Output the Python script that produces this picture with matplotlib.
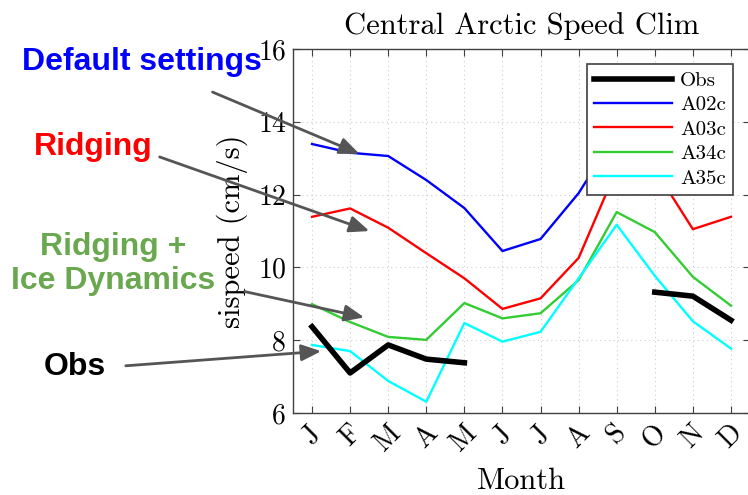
import numpy as np
import matplotlib
matplotlib.use("Agg")
import matplotlib.pyplot as plt

months = ["J", "F", "M", "A", "M", "J", "J", "A", "S", "O", "N", "D"]
obs = [8.37, 7.10, 7.87, 7.48, 7.38, np.nan, np.nan, np.nan, np.nan, 9.32, 9.21, 8.55]
a02c = [13.39, 13.15, 13.06, 12.40, 11.63, 10.45, 10.78, 12.04, 13.7, 13.4, 12.8, 12.9]
a03c = [11.39, 11.62, 11.09, 10.39, 9.70, 8.86, 9.15, 10.26, 12.7, 12.7, 11.05, 11.39]
a34c = [8.99, 8.50, 8.09, 8.01, 9.02, 8.60, 8.74, 9.65, 11.52, 10.97, 9.74, 8.95]
a35c = [7.87, 7.70, 6.88, 6.31, 8.47, 7.96, 8.23, 9.70, 11.17, 9.77, 8.52, 7.77]
yticks = [6, 8, 10, 12, 14, 16]

serif = "cmr10"
W, H = 748, 495
fig = plt.figure(figsize=(W / 100, H / 100), dpi=100)
ax = fig.add_axes([293 / W, 1 - 413 / H, (750 - 293) / W, (413 - 49) / H])

x = np.arange(1, 13)
ax.plot(x, obs, color="black", lw=4, label="Obs", zorder=5)
ax.plot(x, a02c, color="#0000ff", lw=1.7, label="A02c")
ax.plot(x, a03c, color="#ff0000", lw=1.7, label="A03c")
ax.plot(x, a34c, color="#33cc33", lw=1.7, label="A34c")
ax.plot(x, a35c, color="#00ffff", lw=1.7, label="A35c")

ax.set_xlim(0.5, 12.5)
ax.set_ylim(6, 16)
ax.set_xticks(x)
ax.set_xticklabels(months, rotation=45, fontfamily=serif, fontsize=20)
ax.set_yticks(yticks)
ax.set_yticklabels([str(v) for v in yticks], fontfamily=serif, fontsize=20)
ax.tick_params(direction="in", top=True, right=True, length=5, color="#404040", pad=5)
ax.grid(True, linestyle=(0, (1, 3)), color="#cccccc", lw=0.8)
for s in ax.spines.values():
    s.set_color("#404040")
    s.set_linewidth(1.0)

ax.set_title("Central Arctic Speed Clim", fontfamily=serif, fontsize=22, pad=11)
ax.set_xlabel("Month", fontfamily=serif, fontsize=22, labelpad=8)
ax.set_ylabel("sispeed (cm/s)", fontfamily=serif, fontsize=22, labelpad=7)

leg = ax.legend(loc="upper right", bbox_to_anchor=(733 / W, 1 - 64 / H),
                bbox_transform=fig.transFigure, prop={"family": serif, "size": 15},
                fancybox=False, framealpha=1, edgecolor="#404040",
                handlelength=3.7, labelspacing=0.28, borderpad=0.35, handletextpad=0.4,
                borderaxespad=0)
leg.get_frame().set_linewidth(1.2)
leg.set_zorder(10)

# annotations with arrows (figure pixel coords)
def px(xp, yp):
    return (xp / W, 1 - yp / H)

notes = [
    ("Default settings", "#0000ff", (142, 62), (210, 91), (362, 155)),
    ("Ridging", "#ff0000", (93, 147), (157, 156), (372, 232)),
    ("Ridging +\nIce Dynamics", "#6aa84f", (113, 264), (242, 291), (367, 318)),
    ("Obs", "black", (75, 367), (123, 366), (324, 351)),
]
for txt, col, tpos, tail, head in notes:
    fig.text(*px(*tpos), txt, color=col, fontsize=23, fontweight="bold",
             fontfamily="Liberation Sans", ha="center", va="center", linespacing=1.15)
    ax.annotate("", xy=px(*head), xycoords="figure fraction",
                xytext=px(*tail), textcoords="figure fraction",
                arrowprops=dict(arrowstyle="-|>,head_length=1.2,head_width=0.5",
                                color="#555555", lw=2), annotation_clip=False)

fig.savefig("out.png", dpi=100)
